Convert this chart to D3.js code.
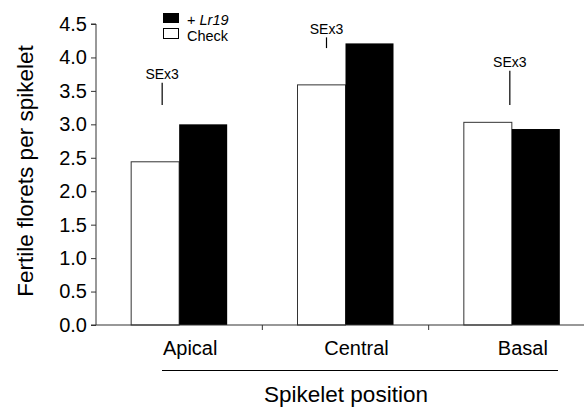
<!DOCTYPE html>
<html>
<head>
<meta charset="utf-8">
<script src="https://cdn.jsdelivr.net/npm/d3@7"></script>
<style>
  body { margin: 0; background: #fff; }
  svg { display: block; font-family: "Liberation Sans", Arial, sans-serif; }
</style>
</head>
<body>
<div id="chart"></div>
<script>
// data
var positions = ["Apical", "Central", "Basal"];
var check = [2.44, 3.59, 3.03];
var lr19 = [3.0, 4.21, 2.93];
var seLow = [3.29, 4.14, 3.29];   // bottom of SEx3 bar
var seHigh = [3.62, 4.30, 3.80];  // top of SEx3 bar
var yTicks = [0, 0.5, 1, 1.5, 2, 2.5, 3, 3.5, 4, 4.5];

var W = 584, H = 410;
var svg = d3.select("#chart").append("svg").attr("width", W).attr("height", H);

var x = d3.scaleBand().domain(positions).range([96, 595]);
var y = d3.scaleLinear().domain([0, 4.5]).range([325, 24]);
var barW = 48;

// bars
var g = svg.append("g");
positions.forEach(function(p, i) {
  var cx = x(p) + x.bandwidth() / 2;
  g.append("rect")
    .attr("x", cx - barW).attr("y", y(check[i]))
    .attr("width", barW).attr("height", y(0) - y(check[i]))
    .attr("fill", "#fff").attr("stroke", "#333").attr("stroke-width", 1);
  g.append("rect")
    .attr("x", cx).attr("y", y(lr19[i]))
    .attr("width", barW).attr("height", y(0) - y(lr19[i]))
    .attr("fill", "#000");
});

// SE markers
var seDx = [-17, -19, -2];
positions.forEach(function(p, i) {
  var sx = x(p) + x.bandwidth() / 2 + seDx[i];
  svg.append("line")
    .attr("x1", sx).attr("x2", sx)
    .attr("y1", y(seLow[i])).attr("y2", y(seHigh[i]))
    .attr("stroke", "#000").attr("stroke-width", 1.2);
  svg.append("text")
    .attr("x", sx).attr("y", y(seHigh[i]) - 3.5)
    .attr("text-anchor", "middle").attr("font-size", 14)
    .text("SEx3");
});

// y axis
var yAxis = svg.append("g").attr("transform", "translate(96,0)")
  .call(d3.axisLeft(y).tickValues(yTicks).tickFormat(d3.format(".1f")).tickSize(5).tickPadding(4));
yAxis.select(".domain").attr("stroke", "#333").attr("d", "M-5," + y(4.5) + "H0V" + y(0) + "H-5");
yAxis.selectAll(".tick line").attr("stroke", "#333");
yAxis.selectAll(".tick text").attr("font-size", 20).attr("fill", "#000")
  .style("font-family", "Liberation Sans, Arial, sans-serif");

// x axis
var xAxis = svg.append("g").attr("transform", "translate(0," + y(0) + ")");
xAxis.append("line").attr("x1", 96).attr("x2", 595).attr("y1", 0).attr("y2", 0)
  .attr("stroke", "#333").attr("stroke-width", 1.2);
positions.slice(1).forEach(function(p) {
  xAxis.append("line").attr("x1", x(p)).attr("x2", x(p)).attr("y1", 0).attr("y2", 5)
    .attr("stroke", "#333");
});
positions.forEach(function(p) {
  xAxis.append("text")
    .attr("x", x(p) + x.bandwidth() / 2 + 11).attr("y", 30)
    .attr("text-anchor", "middle").attr("font-size", 20)
    .text(p);
});

// underline and x title
svg.append("line").attr("x1", 162).attr("x2", 558).attr("y1", 370.5).attr("y2", 370.5)
  .attr("stroke", "#000").attr("stroke-width", 1.2);
svg.append("text").attr("x", 346).attr("y", 401.5).attr("text-anchor", "middle")
  .attr("font-size", 22.5).text("Spikelet position");

// y title
svg.append("text")
  .attr("transform", "translate(33,171) rotate(-90)")
  .attr("text-anchor", "middle").attr("font-size", 22.5)
  .text("Fertile florets per spikelet");

// legend
var leg = svg.append("g");
leg.append("rect").attr("x", 163).attr("y", 13).attr("width", 16).attr("height", 10).attr("fill", "#000");
leg.append("rect").attr("x", 163.5).attr("y", 28.5).attr("width", 15).attr("height", 10)
  .attr("fill", "#fff").attr("stroke", "#000");
var t1 = leg.append("text").attr("x", 187).attr("y", 24.5).attr("font-size", 14.5);
t1.append("tspan").text("+ ");
t1.append("tspan").attr("font-style", "italic").text("Lr19");
leg.append("text").attr("x", 187).attr("y", 40.5).attr("font-size", 14.5).text("Check");
</script>
</body>
</html>
